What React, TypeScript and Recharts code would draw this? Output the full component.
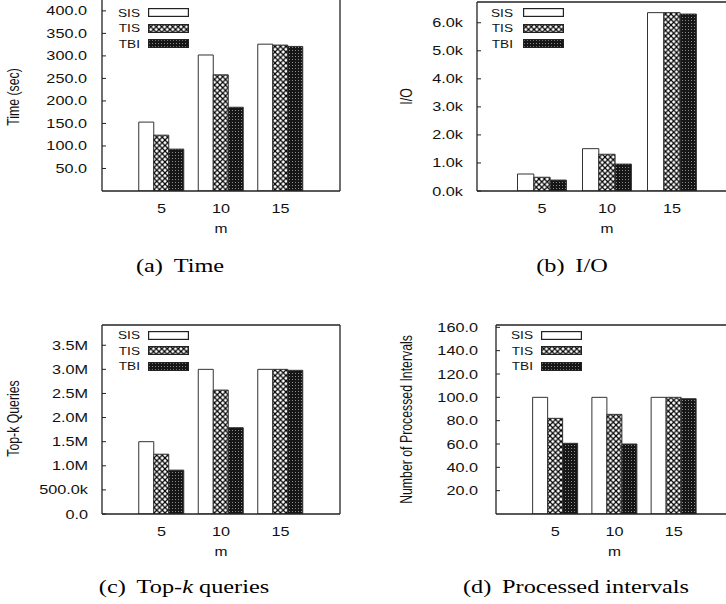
import React from 'react';
import { BarChart, Bar, XAxis, YAxis, Legend } from 'recharts';

const categories = ['5', '10', '15'];
const seriesNames = ['SIS', 'TIS', 'TBI'];

const timeSIS = [153, 302, 326];
const timeTIS = [124, 258, 324];
const timeTBI = [93, 186, 321];
const timeTicks = [50, 100, 150, 200, 250, 300, 350, 400];

const ioSIS = [606, 1510, 6360];
const ioTIS = [490, 1310, 6360];
const ioTBI = [390, 960, 6310];
const ioTicks = [0, 1000, 2000, 3000, 4000, 5000, 6000];

const topkSIS = [1500000, 3000000, 3000000];
const topkTIS = [1240000, 2570000, 3000000];
const topkTBI = [910000, 1790000, 2980000];
const topkTicks = [0, 500000, 1000000, 1500000, 2000000, 2500000, 3000000, 3500000];

const procSIS = [100, 100, 100];
const procTIS = [82, 85.4, 100];
const procTBI = [60.6, 60, 98.8];
const procTicks = [20, 40, 60, 80, 100, 120, 140, 160];

const SX = 1.3; // the figure is stretched sideways
const SANS = '"Liberation Sans", Arial, sans-serif';
const INK = '#111';
const FRAME = '#222';

function rows(sis: number[], tis: number[], tbi: number[]) {
  return categories.map((m, i) => ({ m, SIS: sis[i], TIS: tis[i], TBI: tbi[i] }));
}

const fmt1 = (v: number) => v.toFixed(1);
const fmtK = (v: number) => (v / 1000).toFixed(1) + 'k';
const fmtM = (v: number) => {
  if (v >= 1000000) return (v / 1000000).toFixed(1) + 'M';
  if (v > 0) return (v / 1000).toFixed(1) + 'k';
  return '0.0';
};

const panels = [
  {
    key: 'a', quadLeft: 0, plot: { l: 102, t: -4, r: 340, b: 191 }, domain: [0, 433],
    data: rows(timeSIS, timeTIS, timeTBI), ticks: timeTicks, fmt: fmt1,
    ylabel: 'Time (sec)', labelX: 13, labelDy: 3.5, gap: 15, barSize: 15,
    legend: { textRight: 140, boxL: 148, boxR: 189, row1: 12.5 },
  },
  {
    key: 'b', quadLeft: 363, plot: { l: 477, t: 2, r: 737, b: 191 }, domain: [0, 6740],
    data: rows(ioSIS, ioTIS, ioTBI), ticks: ioTicks, fmt: fmtK,
    ylabel: 'I/O', labelX: 406, labelDy: 0, gap: 14, barSize: 16.3,
    legend: { textRight: 513, boxL: 523, boxR: 564, row1: 12.7 },
  },
  {
    key: 'c', quadLeft: 0, plot: { l: 102, t: 325, r: 340, b: 514 }, domain: [0, 3920000],
    data: rows(topkSIS, topkTIS, topkTBI), ticks: topkTicks, fmt: fmtM,
    ylabel: 'Top-k Queries', labelX: 13, labelDy: -1, gap: 14, barSize: 15,
    legend: { textRight: 140, boxL: 148, boxR: 189, row1: 335 },
  },
  {
    key: 'd', quadLeft: 363, plot: { l: 496, t: 325, r: 733, b: 514 }, domain: [0, 162],
    data: rows(procSIS, procTIS, procTBI), ticks: procTicks, fmt: fmt1,
    ylabel: 'Number of Processed Intervals', labelX: 406, labelDy: 0, gap: 18, barSize: 15,
    legend: { textRight: 533, boxL: 541, boxR: 582, row1: 335 },
  },
];

const captions = [
  { x: 180, y: 257, label: '(a)', text: <>Time</> },
  { x: 572, y: 257, label: '(b)', text: <>I/O</> },
  { x: 184, y: 578, label: '(c)', text: <>Top-<i>k</i> queries</> },
  { x: 576, y: 578, label: '(d)', text: <>Processed intervals</> },
];

const fills: Record<string, string> = {
  SIS: '#ffffff',
  TIS: 'url(#pat-tis)',
  TBI: 'url(#pat-tbi)',
};

function Patterns() {
  return (
    <svg width={0} height={0} style={{ position: 'absolute' }}>
      <defs>
        <pattern id="pat-tis" patternUnits="userSpaceOnUse" width={5.5} height={5.5}>
          <rect width={5.5} height={5.5} fill="#fff" />
          <path d="M0,0 L5.5,5.5 M5.5,0 L0,5.5" stroke="#000" strokeWidth={1.2} />
        </pattern>
        <pattern id="pat-tbi" patternUnits="userSpaceOnUse" width={3} height={3}>
          <rect width={3} height={3} fill="#161616" />
          <rect x={1} y={1} width={1} height={1} fill="#8a8a8a" />
        </pattern>
      </defs>
    </svg>
  );
}

function Panel({ cfg }: { cfg: any }) {
  const { quadLeft, plot, domain, data, ticks, fmt, ylabel, labelX, labelDy, gap, barSize, legend } = cfg;
  const yW = plot.l - quadLeft;
  const plotW = plot.r - plot.l;
  const plotH = plot.b - plot.t;
  const chartTop = plot.t - 10;
  const xH = 60;
  const width = yW + plotW + 10;
  const height = 10 + plotH + xH;
  const band = plotW / 4;
  const pad = band / 2;
  const rowH = 15.5;

  const yTick = (p: any) => (
    <g transform={`translate(${p.x},${p.y}) scale(${SX},1)`}>
      <text textAnchor="end" dy="0.36em" fontSize={12.5} fontFamily={SANS} fill={INK}>
        {fmt(p.payload.value)}
      </text>
    </g>
  );

  const xTick = (p: any) => (
    <g transform={`translate(${p.x},${p.y + 21.5}) scale(${SX},1)`}>
      <text textAnchor="middle" fontSize={12.5} fontFamily={SANS} fill={INK}>
        {p.payload.value}
      </text>
    </g>
  );

  const yLabel = (p: any) => {
    const vb = p.viewBox;
    const cx = vb.x + (labelX - quadLeft);
    const cy = vb.y + vb.height / 2 + labelDy;
    return (
      <g transform={`translate(${cx},${cy}) scale(${SX},1) rotate(-90)`}>
        <text textAnchor="middle" dy="0.35em" fontSize={12.3} fontFamily={SANS} fill={INK}>
          {ylabel}
        </text>
      </g>
    );
  };

  const xLabel = (p: any) => {
    const vb = p.viewBox;
    return (
      <g transform={`translate(${vb.x + vb.width / 2},${vb.y + 42}) scale(${SX},1)`}>
        <text textAnchor="middle" fontSize={12} fontFamily={SANS} fill={INK}>
          m
        </text>
      </g>
    );
  };

  const legendContent = (p: any) => {
    const items = [...(p.payload || [])].sort(
      (a: any, b: any) => seriesNames.indexOf(a.value) - seriesNames.indexOf(b.value),
    );
    return (
      <div>
        {items.map((e: any) => (
          <div key={e.value} style={{ display: 'flex', alignItems: 'center', height: rowH }}>
            <span
              style={{
                display: 'inline-block', width: 40, textAlign: 'right', fontFamily: SANS,
                fontSize: 10.5, color: INK, transform: `scaleX(${SX})`, transformOrigin: 'right center',
                lineHeight: '12px',
              }}
            >
              {e.value}
            </span>
            <svg width={legend.boxR - legend.boxL} height={9} style={{ marginLeft: legend.boxL - legend.textRight }}>
              <rect x={0.6} y={0.6} width={legend.boxR - legend.boxL - 1.2} height={7.8}
                fill={e.color} stroke={FRAME} strokeWidth={1.2} />
            </svg>
          </div>
        ))}
      </div>
    );
  };

  return (
    <div style={{ position: 'absolute', left: quadLeft, top: chartTop }}>
      <BarChart width={width} height={height} data={data}
        margin={{ top: 9, right: 9, bottom: 0, left: 0 }} barGap={0} barSize={barSize}>
        <XAxis dataKey="m" padding={{ left: pad, right: pad }} height={xH} interval={0}
          axisLine={{ stroke: FRAME, strokeWidth: 1.3 }} tickLine={false} tickSize={0} tickMargin={0}
          tick={xTick} label={xLabel} />
        <XAxis xAxisId="top" orientation="top" dataKey="m" padding={{ left: pad, right: pad }} height={1}
          interval={0} axisLine={{ stroke: FRAME, strokeWidth: 1.3 }} tick={false}
          tickLine={{ stroke: FRAME }} tickSize={-4} />
        <YAxis type="number" domain={domain} ticks={ticks} width={yW} interval={0} allowDataOverflow
          axisLine={{ stroke: FRAME, strokeWidth: 1.3 }} tickLine={{ stroke: FRAME }} tickSize={-4}
          tickMargin={gap + 4} tick={yTick} label={yLabel} />
        <YAxis yAxisId="r" orientation="right" type="number" domain={domain} ticks={ticks} width={1}
          interval={0} allowDataOverflow axisLine={{ stroke: FRAME, strokeWidth: 1.3 }}
          tickLine={{ stroke: FRAME }} tickSize={-4} tick={false} />
        <Legend layout="vertical" align="center" verticalAlign="middle" content={legendContent}
          wrapperStyle={{ left: legend.textRight - 40 - quadLeft, top: legend.row1 - rowH / 2 - chartTop, width: 'auto' }} />
        {seriesNames.map((s) => (
          <Bar key={s} dataKey={s} name={s} fill={fills[s]} stroke="#333" strokeWidth={1}
            isAnimationActive={false} />
        ))}
      </BarChart>
    </div>
  );
}

export default function App() {
  return (
    <div style={{ position: 'absolute', left: 0, top: 0, width: 726, height: 604, overflow: 'hidden', background: '#fff' }}>
      <Patterns />
      {panels.map((cfg) => (
        <Panel key={cfg.key} cfg={cfg} />
      ))}
      {captions.map((c) => (
        <div key={c.label}
          style={{
            position: 'absolute', left: c.x, top: c.y, whiteSpace: 'nowrap',
            transform: `translateX(-50%) scaleX(1.35)`, fontFamily: '"Liberation Serif", serif',
            fontSize: 18, lineHeight: '18px', color: '#000',
          }}>
          {c.label}
          <span style={{ marginLeft: 8 }}>{c.text}</span>
        </div>
      ))}
    </div>
  );
}
